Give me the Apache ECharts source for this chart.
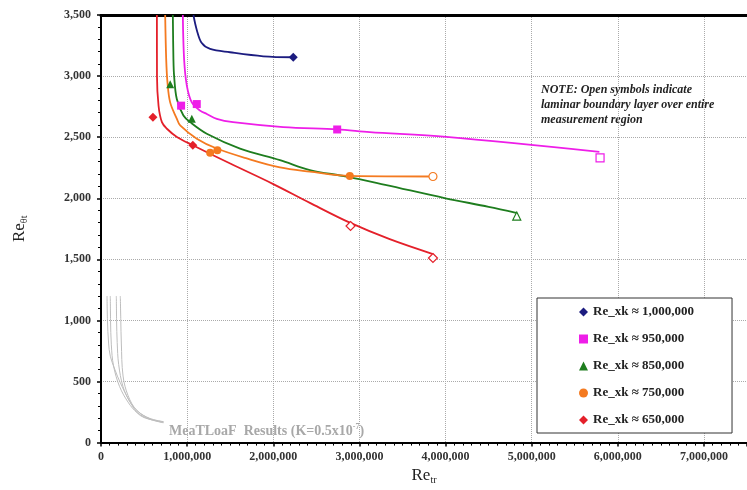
<!DOCTYPE html>
<html>
<head>
<meta charset="utf-8">
<script src="https://cdn.jsdelivr.net/npm/echarts@6/dist/echarts.min.js"></script>
<style>
  html, body { margin: 0; padding: 0; background: #fff; }
  #chart { width: 747px; height: 490px; }
</style>
</head>
<body>
<div id="chart"></div>
<script>
// Re_xk series: fitted curve points, filled symbols, open symbols  [Re_tr, Re_theta]
var names = ['Re_xk ≈ 1,000,000', 'Re_xk ≈ 950,000', 'Re_xk ≈ 850,000', 'Re_xk ≈ 750,000', 'Re_xk ≈ 650,000'];
var colors = ['#1c1c80', '#ee1ee8', '#1e7d1e', '#f47a20', '#e4202a'];
var symbols = ['diamond', 'rect', 'triangle', 'circle', 'diamond'];

var curve1000 = [[1073000, 3500], [1112000, 3378], [1170000, 3270], [1267000, 3222], [1498000, 3195], [1884000, 3162], [2232000, 3154]];
var curve950 = [[950000, 3500], [965000, 3136], [997000, 2920], [1054000, 2785], [1151000, 2717], [1228000, 2690], [1344000, 2650], [1533000, 2623], [2116000, 2583], [2742000, 2563], [3120000, 2542], [4009000, 2502], [5786000, 2380]];
var curve850 = [[834000, 3500], [841000, 3136], [849000, 3000], [880000, 2812], [957000, 2677], [1035000, 2623], [1228000, 2528], [1614000, 2407], [2078000, 2312], [2425000, 2231], [2851000, 2178], [3300000, 2110], [4000000, 2000], [4500000, 1930], [4820000, 1881]];
var curve750 = [[745000, 3500], [757000, 3136], [772000, 2947], [803000, 2785], [881000, 2650], [919000, 2596], [1112000, 2488], [1344000, 2407], [1692000, 2326], [2078000, 2252], [2425000, 2218], [2889000, 2183], [3854000, 2178]];
var curve650 = [[649000, 3500], [650000, 3000], [668000, 2757], [707000, 2623], [765000, 2569], [881000, 2502], [1066000, 2434], [1500000, 2284], [2000000, 2116], [2425000, 1962], [2889000, 1800], [3352000, 1665], [3854000, 1543]];

var filled1000 = [[2232000, 3154]];
var filled950 = [[930000, 2758], [1112000, 2771], [2742000, 2563]];
var filled850 = [[803000, 2933], [1054000, 2650]];
var filled750 = [[1267000, 2372], [1351000, 2393], [2889000, 2183]];
var filled650 = [[603000, 2664], [1066000, 2434]];

var open1000 = [];
var open950 = [[5794000, 2330]];
var open850 = [[4827000, 1854]];
var open750 = [[3854000, 2178]];
var open650 = [[2897000, 1773], [3854000, 1511]];

// MeaTLoaF results, K = 0.5x10^-7
var meatA = [[70000, 1200], [75000, 1000], [88000, 815], [108000, 707], [160000, 600], [224000, 490], [340000, 329], [455000, 222], [649000, 175], [725000, 162]];
var meatB = [[108000, 1200], [111000, 1000], [120000, 800], [145000, 630], [215000, 460], [320000, 325], [420000, 245], [560000, 192], [725000, 166]];
var meatC = [[178000, 1200], [181000, 1000], [188000, 820], [205000, 640], [255000, 460], [335000, 335], [430000, 255], [560000, 200], [725000, 170]];
var meatD = [[224000, 1200], [230000, 1000], [236000, 815], [256000, 545], [315000, 383], [417000, 262], [571000, 194], [725000, 172]];

var xTicks = { min: 0, max: 7500000, interval: 1000000 };
var yTicks = { min: 0, max: 3500, interval: 500 };

var curves = [curve1000, curve950, curve850, curve750, curve650];
var filled = [filled1000, filled950, filled850, filled750, filled650];
var opens = [open1000, open950, open850, open750, open650];
var meat = [meatA, meatB, meatC, meatD];

var serif = '"Liberation Serif", "DejaVu Serif", serif';
var series = [];

meat.forEach(function (d, i) {
    series.push({
        name: 'meat' + i, type: 'line', data: d, smooth: 0.35, showSymbol: false, silent: true,
        lineStyle: { color: '#bdbdbd', width: 1 }, z: 1
    });
});

curves.forEach(function (d, i) {
    series.push({
        name: 'fit' + i, type: 'line', data: d, smooth: 0.35, showSymbol: false,
        lineStyle: { color: colors[i], width: 1.8 }, z: 2
    });
});

names.forEach(function (n, i) {
    var pts = filled[i].map(function (p) { return { value: p }; });
    opens[i].forEach(function (p) {
        pts.push({ value: p, itemStyle: { color: '#fff', borderColor: colors[i], borderWidth: 1.2 } });
    });
    series.push({
        name: n, type: 'scatter', data: pts, symbol: symbols[i],
        symbolSize: symbols[i] === 'diamond' ? 9 : 8,
        itemStyle: { color: colors[i], opacity: 1 }, z: 5
    });
});

var chart = echarts.init(document.getElementById('chart'));
chart.setOption({
    animation: false,
    grid: { left: 101, right: 0, top: 15, bottom: 43 },
    legend: {
        orient: 'vertical', left: 537, top: 298,
        data: names.map(function (n, i) { return { name: n, icon: symbols[i], itemStyle: { opacity: 1 } }; }),
        itemWidth: 9, itemHeight: 9, itemGap: 13,
        padding: [7, 38, 6, 42],
        borderColor: '#333', borderWidth: 1, backgroundColor: '#fff',
        textStyle: { fontFamily: serif, fontWeight: 'bold', fontSize: 13, color: '#222', lineHeight: 14 }
    },
    xAxis: [{
        type: 'value', min: xTicks.min, max: xTicks.max, interval: xTicks.interval,
        name: '{b|Re}{s|tr}', nameLocation: 'middle', nameGap: 22,
        nameTextStyle: {
            rich: {
                b: { fontFamily: serif, fontSize: 17, color: '#222' },
                s: { fontFamily: serif, fontSize: 10, color: '#222', padding: [8, 0, 0, 0] }
            }
        },
        axisLine: { lineStyle: { color: '#000', width: 2 } },
        axisTick: { show: true, length: 4, lineStyle: { color: '#000', width: 1.5 } },
        minorTick: { show: true, splitNumber: 10, length: 3, lineStyle: { color: '#000' } },
        axisLabel: {
            fontFamily: serif, fontWeight: 'bold', fontSize: 12, color: '#333', margin: 8,
            showMaxLabel: false,
            formatter: function (v) { return v % 1000000 === 0 ? v.toLocaleString('en-US') : ''; }
        },
        splitLine: { lineStyle: { color: '#aaa', type: 'dotted', width: 1 } }
    }, {
        type: 'value', position: 'top', min: xTicks.min, max: xTicks.max,
        axisLine: { show: true, onZero: false, lineStyle: { color: '#000', width: 3 } },
        axisTick: { show: false }, axisLabel: { show: false }, splitLine: { show: false }
    }],
    yAxis: {
        type: 'value', min: yTicks.min, max: yTicks.max, interval: yTicks.interval,
        name: '{b|Re}{s|θt}', nameLocation: 'middle', nameGap: 72, nameRotate: 90,
        nameTextStyle: {
            rich: {
                b: { fontFamily: serif, fontSize: 17, color: '#222' },
                s: { fontFamily: serif, fontSize: 10, color: '#222', padding: [8, 0, 0, 0] }
            }
        },
        axisLine: { show: true, lineStyle: { color: '#000', width: 2 } },
        axisTick: { show: true, length: 4, lineStyle: { color: '#000', width: 1.5 } },
        minorTick: { show: true, splitNumber: 5, length: 3, lineStyle: { color: '#000' } },
        axisLabel: {
            fontFamily: serif, fontWeight: 'bold', fontSize: 12, color: '#333', margin: 10,
            formatter: function (v) { return v.toLocaleString('en-US'); }
        },
        splitLine: { lineStyle: { color: '#aaa', type: 'dotted', width: 1 } }
    },
    graphic: [{
        type: 'text', left: 541, top: 82,
        style: {
            text: 'NOTE: Open symbols indicate\nlaminar boundary layer over entire\nmeasurement region',
            font: 'italic bold 12px ' + serif, fill: '#222', lineHeight: 15
        }
    }, {
        type: 'text', left: 169, top: 423,
        style: {
            text: '{a|MeaTLoaF  Results (K=0.5x10}{s|-7}{a|)}',
            rich: {
                a: { fontFamily: serif, fontWeight: 'bold', fontSize: 14, fill: '#a8a8a8', lineHeight: 17 },
                s: { fontFamily: serif, fontWeight: 'bold', fontSize: 8, fill: '#a8a8a8', lineHeight: 17, padding: [0, 0, 8, 0] }
            }
        }
    }],
    series: series
});
</script>
</body>
</html>
